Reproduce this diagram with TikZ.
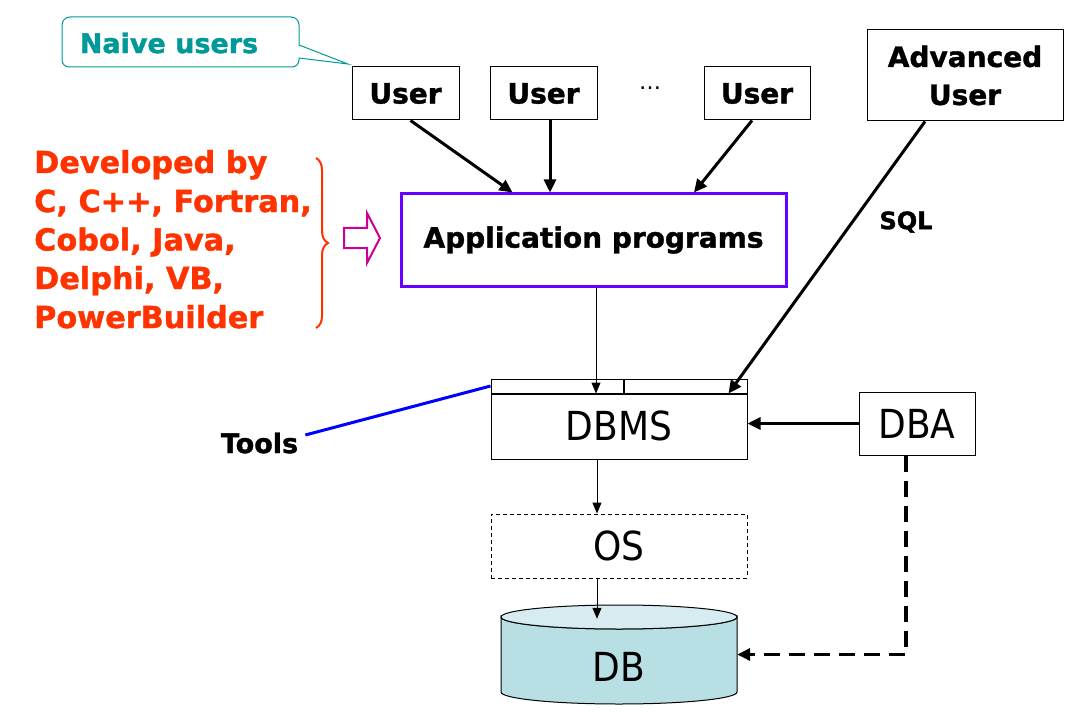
\documentclass[tikz,border=0pt]{standalone}
\usepackage{fontspec}
\setmainfont{DejaVu Sans}[BoldFeatures={FakeBold=1.3}]
\newfontfamily\condfont{DejaVu Sans Condensed}
\usetikzlibrary{arrows.meta,decorations.pathreplacing}
\definecolor{naiveteal}{RGB}{0,153,153}
\definecolor{apppurple}{RGB}{102,0,255}
\definecolor{devred}{RGB}{255,51,0}
\definecolor{hollowmag}{RGB}{204,0,153}
\definecolor{dbfill}{RGB}{184,224,228}
\definecolor{dbtop}{RGB}{214,236,240}
\definecolor{toolblue}{RGB}{0,0,255}
\begin{document}
\begin{tikzpicture}[x=1pt,y=-1pt,
  boldtext/.style={font=\fontsize{28}{38}\selectfont\bfseries},
  redtext/.style={font=\fontsize{30.3}{34}\selectfont\bfseries, text=devred, inner sep=0pt, anchor=base west},
  bigtext/.style={font=\condfont\fontsize{40}{44}\selectfont},
  box/.style={draw, line width=1pt, inner sep=0pt},
  thickarrow/.style={line width=3pt, -{Triangle[length=13pt,width=12pt]}},
  thinarrow/.style={line width=1pt, -{Triangle[length=11pt,width=9pt]}},
]
\fill[white] (0,0) rectangle (1084,722);
\useasboundingbox (0,0) rectangle (1084,722);

% callout
\draw[naiveteal, line width=1pt] (62,42) [rounded corners=8pt] |- (299,17) -- (299,38) [sharp corners] -- (299,45) -- (348,64) -- (299,58) [rounded corners=7pt] |- (62,67) -- cycle;
\node[font=\fontsize{27}{30}\selectfont\bfseries, text=naiveteal, inner sep=0pt] (naive) at (169,43) {Naive users};

% users
\node[box, boldtext, minimum width=107pt, minimum height=53pt] (u1) at (405.5,93.5) {User};
\node[box, boldtext, minimum width=107pt, minimum height=53pt] (u2) at (543.5,93.5) {User};
\node[box, boldtext, minimum width=106pt, minimum height=53pt] (u3) at (757,93.5) {User};
\node[font=\fontsize{22}{24}\selectfont, inner sep=0pt] (dots) at (650,88) {…};
\node[box, boldtext, align=center, minimum width=196pt, minimum height=91pt] (adv) at (965,75.5) {Advanced\\User};

% application programs
\node[draw=apppurple, line width=3pt, inner sep=0pt, minimum width=385pt, minimum height=92pt, boldtext] (app) at (593.5,240) {\raisebox{-2pt}{Application programs}};

% developed by
\node[redtext] (dev1) at (34,173) {Developed by};
\node[redtext] (dev2) at (34,212) {C, C++, Fortran,};
\node[redtext] (dev3) at (34,250.5) {Cobol, Java,};
\node[redtext] (dev4) at (34,289) {Delphi, VB,};
\node[redtext] (dev5) at (34,328) {PowerBuilder};
\draw[devred, line width=2pt, decorate, decoration={brace, amplitude=12pt}] (316,158) -- (316,328);
\draw[hollowmag, line width=2pt] (344,228) -- (367,228) -- (367,213) -- (380,238) -- (367,263) -- (367,248) -- (344,248) -- cycle;

% DBMS
\node[box, minimum width=256pt, minimum height=14pt] (bar) at (619,386) {};
\node[box, bigtext, minimum width=256pt, minimum height=66pt] (dbms) at (619,426) {DBMS};
\draw[line width=2pt] (bar.south west) -- (bar.south east);
\draw[line width=2pt] ([xshift=5pt]bar.north) -- ([xshift=5pt]bar.south);
\node[box, bigtext, minimum width=116pt, minimum height=63pt] (dba) at (917,423.5) {DBA};
\node[draw, line width=1pt, dash pattern=on 4pt off 3pt, bigtext, minimum width=256pt, minimum height=64pt, inner sep=0pt] (os) at (619,546) {OS};

% DB cylinder
\path[fill=dbfill, draw, line width=1pt] (501,617) -- (501,692) arc[start angle=180, end angle=360, x radius=118pt, y radius=12pt] -- (737,617) arc[start angle=360, end angle=180, x radius=118pt, y radius=12pt] -- cycle;
\draw[fill=dbtop, line width=1pt] (619,617) ellipse[x radius=118pt, y radius=12pt];
\node[minimum width=236pt, minimum height=99pt, inner sep=0pt] (db) at (619,654.5) {};
\node[bigtext, inner sep=0pt] (dbtext) at (619,667) {DB};

% tools & SQL
\node[font=\fontsize{27}{30}\selectfont\bfseries, inner sep=0pt] (tools) at (259.5,443) {Tools};
\node[font=\fontsize{24}{26}\selectfont\bfseries, inner sep=0pt] (sql) at (906,222) {SQL};
\draw[toolblue, line width=3pt] ([xshift=7pt,yshift=8pt]tools.east) -- (bar.west);

% connectors
\draw[thickarrow] ([xshift=5pt]u1.south) -- ([xshift=-81pt]app.north);
\draw[thickarrow] ([xshift=6.5pt]u2.south) -- ([xshift=-43.5pt]app.north);
\draw[thickarrow] ([xshift=-5pt]u3.south) -- ([xshift=100.5pt]app.north);
\draw[thickarrow] ([xshift=-40pt]adv.south) -- ([xshift=-19pt]bar.south east);
\draw[thinarrow] ([xshift=2.5pt]app.south) -- ([xshift=-23pt]bar.south);
\draw[thickarrow] (dba.west) -- (dba.west -| dbms.east);
\draw[thinarrow] ([xshift=-22pt]dbms.south) -- ([xshift=-22pt]os.north);
\draw[thinarrow] ([xshift=-22pt]os.south) -- ([xshift=-22pt,yshift=-14pt]db.north);
\draw[line width=3.5pt, dash pattern=on 16pt off 9pt, -{Triangle[length=13pt,width=12pt]}] ([xshift=-11pt]dba.south) |- (db.east);
\end{tikzpicture}
\end{document}
